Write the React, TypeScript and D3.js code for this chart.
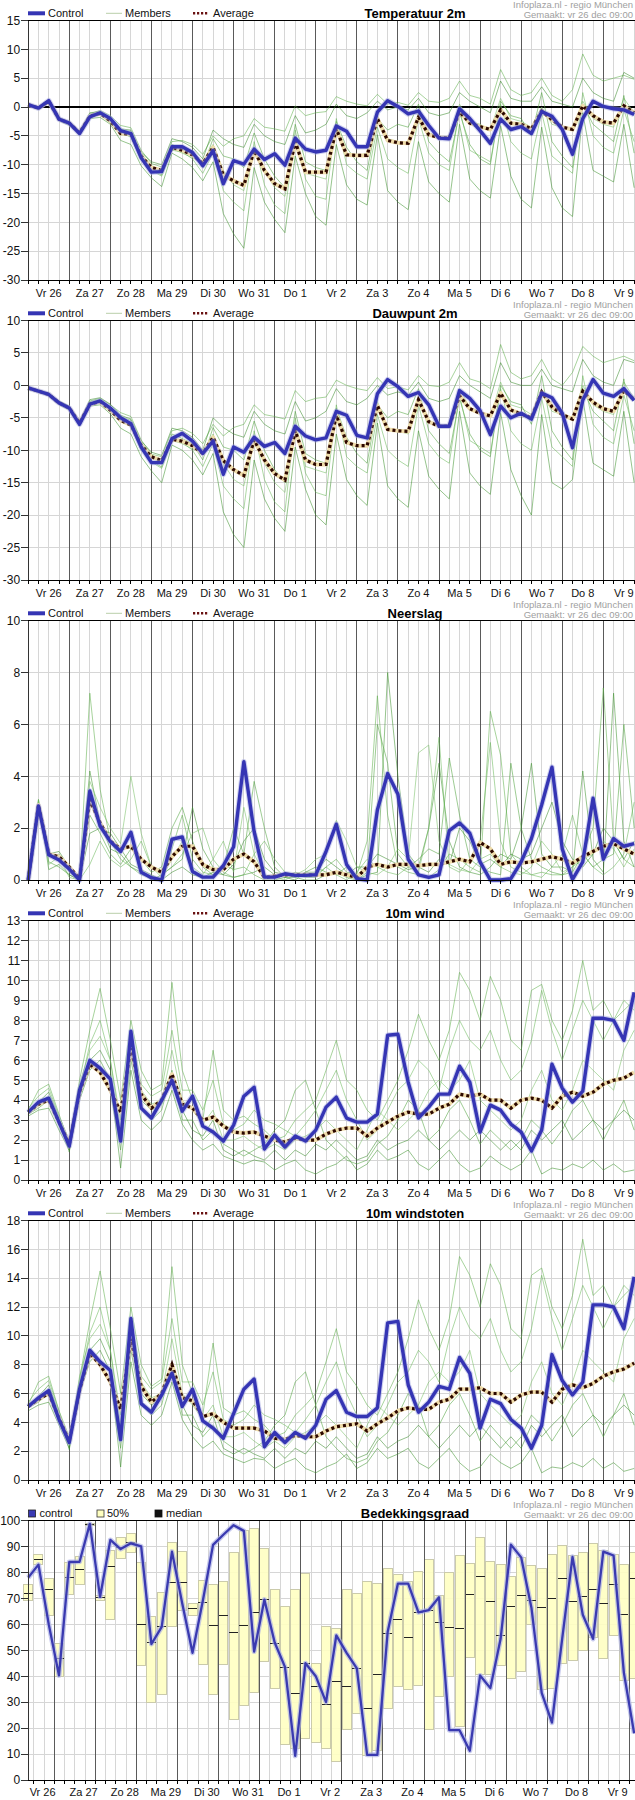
import React from "react";
import * as d3 from "d3";

// ---------- labels ----------
const dayLabels = ["Vr 26", "Za 27", "Zo 28", "Ma 29", "Di 30", "Wo 31", "Do 1", "Vr 2", "Za 3", "Zo 4", "Ma 5", "Di 6", "Wo 7", "Do 8", "Vr 9"];

// ---------- Temperatuur 2m ----------
const tempControl = [0.4,-0.2,1.1,-2.1, -2.8,-4.6,-1.7,-1.0, -2.0,-4.1,-4.6,-8.8, -11.3,-11.2,-6.9,-6.9, -7.9,-10.2,-7.6,-13.3, -9.3,-9.9,-7.3,-9.1, -8.1,-10.1,-5.4,-7.3, -7.8,-7.5,-3.3,-4.2, -6.9,-6.9,-0.9,1.1, 0.1,-1.2,-0.7,-3.2, -5.4,-5.5,-0.3,-2.0, -4.1,-6.3,-2.1,-3.9, -3.4,-4.6,-0.8,-1.6, -3.9,-8.2,-2.0,1.0, 0.1,-0.3,-0.5,-1.3];
const tempAverage = [0.4,-0.2,1.0,-2.1, -2.8,-4.5,-1.6,-1.1, -2.4,-4.6,-4.7,-8.5, -10.5,-11.0,-7.0,-7.5, -8.3,-9.8,-7.0,-11.8, -12.8,-13.6,-7.5,-11.0, -13.3,-14.2,-6.0,-11.3, -11.3,-11.3,-3.8,-8.3, -8.4,-8.4,-2.0,-5.8, -6.2,-6.3,-1.8,-4.8, -5.3,-5.4,-0.8,-2.8, -3.4,-3.9,-0.5,-2.8, -3.0,-3.8,-0.7,-2.2, -3.5,-3.9,0.2,-1.5, -2.6,-2.8,0.2,-1.0];
const tempM1 = [0.3,-0.1,1.0,-1.8, -2.6,-4.3,-1.2,-0.6, -1.5,-3.2,-3.6,-7.5, -9.8,-10.4,-6.0,-5.8, -6.5,-8.2,-5.0,-6.8, -5.5,-5.0,-2.0,-3.5, -3.8,-4.2,0.2,-1.5, -1.0,-0.8,1.8,1.0, 0.5,0.2,2.2,0.5, 0.8,0.3,2.5,1.0, 0.8,1.5,4.5,2.0, 1.5,0.5,6.5,3.0, 2.0,2.5,5.0,2.0, 1.0,3.0,9.2,5.5, 4.5,5.0,5.5,4.8];
const tempM2 = [0.5,-0.3,0.8,-2.4, -3.2,-4.9,-2.0,-1.8, -3.0,-5.8,-6.5,-10.2, -12.3,-13.8,-8.0,-9.0, -10.5,-12.8,-9.5,-18.5, -22.0,-24.5,-10.5,-16.5, -19.5,-21.8,-8.5,-15.0, -19.0,-20.5,-6.5,-13.5, -16.0,-17.0,-4.8,-14.5, -16.5,-17.8,-6.0,-13.0, -15.0,-16.5,-3.0,-12.5, -14.5,-15.8,-3.2,-12.0, -16.0,-17.5,-3.5,-14.0, -17.5,-19.0,-1.0,-11.0, -12.0,-13.0,-3.0,-14.0];
const tempM3 = [0.4,-0.2,1.2,-2.0, -2.9,-4.4,-1.5,-1.2, -2.6,-4.8,-5.0,-8.0, -10.2,-11.0,-7.2,-8.0, -8.8,-9.5,-6.5,-11.0, -13.5,-14.5,-7.0,-11.0, -14.0,-15.5,-5.5,-11.5, -12.0,-12.5,-3.5,-8.0, -8.5,-8.0,-1.5,-5.5, -6.0,-6.5,-1.0,-4.5, -5.0,-5.5,0.5,-2.5, -3.0,-4.0,1.5,-2.0, -2.5,-3.5,0.0,-3.0, -3.5,-4.0,1.0,-2.0, -3.0,-3.5,1.5,-1.0];
const tempM4 = [0.3,-0.1,1.1,-2.3, -3.0,-4.8,-1.8,-1.3, -2.8,-4.5,-5.2,-9.2, -10.8,-11.8,-6.5,-7.2, -8.0,-10.5,-5.5,-8.5, -9.0,-10.5,-4.5,-9.0, -12.0,-14.0,-3.0,-9.5, -10.5,-11.0,-2.5,-7.0, -9.5,-11.0,-2.0,-4.0, -3.0,-3.5,0.5,-6.0, -8.0,-9.5,-1.0,-6.5, -9.0,-10.0,1.0,-1.5, -2.0,-5.0,2.5,-6.0, -8.5,-10.5,0.5,-3.0, -4.5,-6.0,2.0,-8.0];
const tempM5 = [0.4,-0.3,0.9,-2.2, -2.7,-4.5,-1.3,-0.9, -2.2,-4.0,-4.2,-8.5, -11.0,-12.0,-7.5,-7.8, -9.0,-11.5,-8.0,-14.5, -16.5,-18.0,-6.0,-13.5, -17.0,-18.5,-4.0,-12.5, -15.5,-16.0,-2.0,-10.0, -11.5,-12.5,-3.5,-9.0, -10.5,-11.5,-2.0,-8.0, -10.0,-11.0,-0.5,-7.5, -8.5,-9.5,0.5,-6.0, -8.0,-9.0,-1.0,-8.5, -10.0,-11.5,2.5,-5.0, -7.0,-8.0,-0.5,-6.0];
const tempM6 = [0.5,-0.2,1.0,-1.9, -2.5,-4.2,-1.0,-0.8, -2.0,-3.8,-4.0,-7.8, -9.5,-10.0,-5.5,-6.0, -7.0,-9.0,-4.0,-5.5, -6.5,-7.0,-3.0,-5.0, -6.0,-6.5,-1.5,-4.5, -4.0,-3.0,0.5,-1.5, -2.0,-1.0,1.0,-0.5, 0.0,-0.5,1.5,-1.0, -1.5,-1.0,2.5,1.0, 0.0,-1.0,4.5,1.5, 1.0,1.0,3.5,1.0, 0.5,0.0,5.0,2.5, 1.5,1.0,6.0,5.0];

// ---------- Dauwpunt 2m ----------
const dewControl = [-0.4,-0.9,-1.4,-2.7, -3.5,-6.0,-2.9,-2.4, -3.5,-5.0,-5.9,-9.5, -11.9,-11.9,-8.2,-7.4, -8.6,-10.5,-8.6,-13.7, -9.5,-10.3,-8.0,-9.4, -8.8,-10.5,-6.3,-7.8, -8.4,-8.1,-4.0,-4.6, -7.7,-8.1,-1.3,0.9, -0.2,-1.7,-1.1,-3.0, -6.3,-6.3,-0.8,-2.0, -3.9,-7.6,-3.2,-5.0, -4.3,-5.2,-1.2,-1.9, -4.3,-9.6,-2.3,0.9, -1.2,-1.7,-0.5,-2.3];
const dewAverage = [-0.4,-0.9,-1.4,-2.7, -3.5,-5.8,-2.9,-2.5, -3.8,-5.4,-6.1,-9.2, -11.0,-11.6,-8.3,-8.6, -9.3,-10.5,-8.0,-11.6, -13.0,-13.9,-8.4,-11.5, -13.6,-14.6,-7.0,-11.5, -12.2,-12.2,-4.6,-8.8, -9.3,-9.3,-3.1,-6.8, -7.0,-7.1,-2.2,-5.6, -6.3,-6.3,-1.6,-3.6, -4.3,-4.7,-1.2,-3.8, -4.4,-5.0,-1.0,-3.3, -4.5,-5.2,-0.9,-2.6, -3.6,-4.0,-0.8,-2.2];
const dewM1 = [-0.4,-0.8,-1.3,-2.5, -3.3,-5.6,-2.4,-2.0, -3.0,-4.2,-4.8,-8.4, -10.6,-11.0,-7.0,-6.6, -7.4,-9.0,-6.0,-7.8, -6.5,-6.0,-3.0,-4.5, -4.8,-5.2,-0.8,-2.5, -2.0,-1.8,0.8,0.0, -0.5,-0.8,1.2,-0.5, -0.2,-0.7,1.5,0.0, -0.2,0.5,3.5,1.0, 0.5,-0.5,6.3,2.0, 1.0,1.5,4.0,1.0, 0.0,2.0,6.0,4.5, 3.5,4.0,4.5,3.8];
const dewM2 = [-0.3,-1.0,-1.6,-3.0, -3.8,-6.3,-3.2,-3.0, -4.4,-6.6,-7.5,-11.0, -13.2,-15.0,-9.2,-10.0, -11.5,-13.8,-10.5,-19.5, -23.0,-25.0,-11.5,-17.5, -20.5,-22.5,-9.5,-16.0, -20.0,-21.5,-7.5,-14.5, -17.0,-18.5,-5.8,-15.5, -17.5,-18.8,-7.0,-14.0, -16.0,-17.5,-4.0,-13.5, -15.5,-16.8,-4.2,-13.0, -17.0,-20.0,-4.5,-15.0, -16.0,-14.5,-2.0,-12.0, -13.0,-14.0,-4.0,-15.0];
const dewM3 = [-0.4,-0.9,-1.3,-2.6, -3.6,-5.8,-2.7,-2.6, -3.9,-5.6,-6.2,-8.8, -11.0,-11.8,-8.4,-9.0, -9.8,-10.5,-7.5,-12.0, -14.5,-15.5,-8.0,-12.0, -15.0,-16.5,-6.5,-12.5, -13.0,-13.5,-4.5,-9.0, -9.5,-9.0,-2.5,-6.5, -7.0,-7.5,-2.0,-5.5, -6.0,-6.5,-0.5,-3.5, -4.0,-5.0,0.5,-3.0, -3.5,-4.5,-1.0,-4.0, -4.5,-5.0,0.0,-3.0, -4.0,-4.5,0.5,-2.0];
const dewM4 = [-0.4,-0.8,-1.5,-2.9, -3.7,-6.2,-3.0,-2.7, -3.8,-5.4,-6.3,-10.0, -11.6,-12.6,-7.5,-8.2, -9.0,-11.5,-6.5,-9.5, -10.0,-11.5,-5.5,-10.0, -13.0,-15.0,-4.0,-10.5, -11.5,-12.0,-3.5,-8.0, -10.5,-12.0,-3.0,-5.0, -4.0,-4.5,-0.5,-7.0, -9.0,-10.5,-2.0,-7.5, -10.0,-11.0,0.0,-2.5, -3.0,-6.0,1.5,-7.0, -9.5,-11.5,-0.5,-4.0, -5.5,-7.0,1.0,-9.0];
const dewM5 = [-0.3,-1.0,-1.4,-2.8, -3.4,-5.9,-2.5,-2.2, -3.3,-4.8,-5.4,-9.2, -11.8,-12.8,-8.6,-8.8, -10.0,-12.5,-9.0,-15.5, -17.5,-19.0,-7.0,-14.5, -18.0,-19.5,-5.0,-13.5, -16.5,-17.0,-3.0,-11.0, -12.5,-13.5,-4.5,-10.0, -11.5,-12.5,-3.0,-9.0, -11.0,-12.0,-1.5,-8.5, -9.5,-10.5,-0.5,-7.0, -9.0,-10.0,-2.0,-9.5, -11.0,-12.5,1.5,-6.0, -8.0,-9.0,-1.5,-7.0];
const dewM6 = [-0.5,-0.9,-1.2,-2.4, -3.2,-5.5,-2.2,-1.9, -2.9,-4.6,-5.2,-8.6, -10.3,-10.8,-6.6,-7.0, -8.0,-10.0,-5.0,-6.5, -7.5,-8.0,-4.0,-6.0, -7.0,-7.5,-2.5,-5.5, -5.0,-4.0,-0.5,-2.5, -3.0,-2.0,0.0,-1.5, -1.0,-1.5,0.5,-2.0, -2.5,-2.0,1.5,0.0, -1.0,-2.0,3.5,0.5, 0.0,0.0,2.5,0.0, -0.5,-1.0,4.0,1.5, 0.5,0.0,4.0,3.5];

// ---------- Neerslag ----------
const rainControl = [0,2.85,0.97,0.77, 0.42,0,3.43,2.08, 1.48,1.1,1.84,0.3, 0.09,0,1.57,1.66, 0.33,0.11,0.11,0.55, 1.28,4.56,1.86,0.11, 0.11,0.24,0.18,0.18, 0.2,1.1,2.15,0.6, 0.05,0,2.7,4.1, 3.3,0.8,0.2,0.1, 0.2,1.9,2.2,1.8, 0.7,0,0,0.05, 0.7,1.6,2.9,4.35, 1.2,0.02,0.7,3.15, 0.8,1.6,1.3,1.4];
const rainAverage = [0,2.9,1.0,0.9, 0.5,0.05,3.1,2.2, 1.5,1.2,1.3,0.8, 0.5,0.3,0.9,1.3, 1.3,0.6,0.4,0.4, 0.8,1.0,0.7,0.1, 0.15,0.2,0.2,0.2, 0.2,0.2,0.3,0.2, 0.1,0.5,0.6,0.5, 0.6,0.6,0.55,0.6, 0.6,0.7,0.8,0.7, 1.45,1.2,0.6,0.7, 0.65,0.7,0.8,0.9, 0.8,0.65,0.9,1.1, 1.3,1.4,1.2,1.0];
const rainM1 = [0,3.0,0.9,1.0, 0.3,0,7.2,3.5, 1.5,0.8,0.5,0.2, 0.1,0,1.2,2.5, 0.8,0.3,0.2,0.6, 0.4,0.5,0.2,0, 0,0.1,0.3,0.2, 0.2,0.5,0.8,0.3, 0.2,1.5,7.1,2.5, 0.5,0.3,0.2,0.1, 0.4,1.0,0.8,0.5, 0.3,6.5,4.8,1.0, 0.5,0.2,0.3,0.2, 0.2,0.5,1.0,2.0, 7.4,1.5,0.8,0.5];
const rainM2 = [0,3.1,0.4,0.6, 0.2,0,4.2,2.2, 1.2,1.0,0.5,0.3, 0,0.2,0.5,0.8, 2.8,1.2,0.5,0.2, 0.1,0.2,0.3,0.5, 0.2,0.1,0,0.3, 0.5,0.3,0.2,0.5, 0,0.2,0.3,8.0, 4.0,1.0,0.5,2.0, 4.5,1.5,0.5,0.3, 0.2,0.5,1.0,0.8, 2.0,4.5,1.0,0.5, 0.5,0.3,4.2,0.8, 0.3,7.2,1.5,0.5];
const rainM3 = [0,2.9,1.1,0.8, 0.4,0,3.8,2.8, 2.0,1.4,4.0,1.8, 0.5,0.1,0.8,1.5, 0.5,0.2,0.8,1.5, 0.3,2.8,1.0,0.2, 0.1,0,0.2,0.4, 0.8,1.0,2.3,1.5, 0.5,0.3,0.2,0.5, 1.2,0.8,4.9,5.2, 1.5,0.6,0.4,0.3, 0.8,1.0,0.5,0.3, 0.2,0.5,1.5,1.0, 0.3,0.5,0.8,1.0, 1.5,1.2,0.5,1.2];
const rainM4 = [0,3.0,0.7,0.5, 0.2,0,2.5,1.8, 1.0,0.6,1.2,0.8, 0.3,0.5,2.0,2.8, 1.5,0.5,0.2,0.5, 2.0,1.0,3.8,2.0, 0.5,0.1,0.1,0, 0,0.2,0.3,0.1, 0,0.3,6.0,4.5, 1.0,0.5,0.8,1.2, 1.0,4.7,2.5,0.8, 0.5,0.3,0.2,4.5, 2.0,0.8,0.5,0.3, 0.2,0.3,1.0,0.5, 0.8,1.0,6.0,2.0];
const rainM5 = [0,3.1,0.6,0.9, 0.1,0,0.6,1.5, 0.8,0.5,0.8,1.5, 0.5,0.2,0.5,1.0, 1.8,2.0,0.8,0.3, 0.1,0.2,1.0,1.5, 0.8,0.3,0.2,0.1, 0.1,0.5,0.2,0, 0.3,0.8,0.5,0.3, 0.2,0.5,0.3,2.0, 5.5,0.5,0.3,0.8, 1.5,5.3,1.5,0.5, 0.3,0.2,0.1,0.5, 1.0,2.5,1.0,0.5, 0.2,0.5,1.0,3.0];
const rainM6 = [0,2.9,1.0,1.1, 0.5,0,1.8,2.0, 1.8,1.2,0.6,0.4, 0.2,0,0.3,0.5, 0.2,0.1,0.3,0.2, 0.6,1.5,2.0,0.8, 0.3,0.2,0.1,0.3, 0.3,0.8,0.5,0.2, 0.5,0.5,1.0,0.8, 0.6,0.4,0.5,0.3, 0.8,0.6,2.0,1.5, 0.6,0.8,0.5,1.0, 0.8,1.0,2.0,3.0, 1.5,0.8,0.5,1.0, 2.0,1.5,0.8,1.5];

// ---------- 10m wind ----------
const windControl = [3.4,3.9,4.1,2.9, 1.7,4.5,6.0,5.6, 5.05,1.95,7.45,3.6, 3.1,4.0,5.0,3.45, 4.2,2.7,2.4,1.95, 2.75,4.2,4.65,1.55, 2.25,1.65,2.2,1.95, 2.5,3.65,4.15,3.1, 2.9,2.9,3.3,7.25, 7.3,4.9,3.1,3.65, 4.3,4.3,5.7,4.9, 2.4,3.75,3.5,2.8, 2.4,1.45,2.5,5.8, 4.6,3.9,4.45,8.1, 8.1,8.0,7.0,9.4];
const windAverage = [3.4,3.8,4.0,2.9, 1.8,4.4,5.8,5.4, 4.5,3.4,6.6,4.3, 3.6,4.0,5.3,3.8, 3.6,3.0,3.15,2.7, 2.4,2.35,2.4,2.2, 2.0,1.9,2.1,2.0, 2.0,2.3,2.5,2.6, 2.6,2.2,2.6,2.9, 3.2,3.4,3.3,3.3, 3.6,3.8,4.3,4.2, 4.3,4.0,4.0,3.6, 4.0,4.1,4.0,3.6, 4.2,4.4,4.2,4.4, 4.8,5.0,5.1,5.4];
const windM1 = [3.5,4.5,4.8,3.3, 1.8,5.0,7.5,9.6, 7.0,4.0,8.0,5.5, 4.5,4.8,9.9,5.5, 4.0,3.0,6.5,3.5, 3.0,3.2,2.8,2.5, 2.0,2.2,3.0,3.5, 4.0,5.5,7.0,5.0, 4.5,3.5,3.0,4.0, 5.0,6.5,8.3,7.0, 6.0,7.5,10.4,9.5, 8.0,10.2,9.0,7.0, 6.5,9.5,9.8,8.0, 7.0,8.5,11.0,8.5, 9.0,8.0,8.5,9.0];
const windM2 = [3.2,3.5,3.6,2.5, 1.5,4.0,5.5,6.0, 5.0,0.6,5.5,3.0, 2.5,3.0,4.5,2.8, 2.0,1.5,1.8,1.2, 1.0,0.8,1.0,0.9, 0.5,0.8,1.0,0.5, 0.3,0.6,0.8,1.2, 0.5,0.8,1.5,1.0, 1.2,1.5,0.8,0.5, 1.0,1.5,0.8,0.4, 0.6,1.2,0.8,0.5, 0.8,1.5,0.3,0.6, 0.5,0.8,0.6,1.0, 0.5,0.8,0.4,0.5];
const windM3 = [3.4,3.8,4.2,3.0, 1.6,4.8,6.5,7.2, 6.0,2.5,7.0,4.5, 3.8,4.0,6.5,4.0, 3.5,2.8,3.5,2.0, 2.0,2.2,1.8,1.5, 1.8,1.5,2.0,2.2, 2.5,3.0,2.5,2.0, 1.5,2.5,3.5,3.0, 2.5,3.0,3.5,4.5, 5.0,4.5,5.0,6.0, 4.0,3.5,3.0,2.5, 3.0,4.5,5.5,4.0, 3.5,4.5,6.0,5.5, 5.0,4.5,6.5,7.5];
const windM4 = [3.3,3.6,4.0,2.8, 1.7,4.2,5.8,5.5, 4.5,1.5,6.0,3.5, 3.0,3.5,5.5,3.0, 3.0,2.0,2.5,1.8, 1.5,1.2,1.5,1.8, 2.5,3.0,4.5,5.0, 3.5,2.0,1.5,1.0, 0.8,1.0,1.8,2.2, 3.0,4.0,3.5,2.0, 2.5,3.5,4.0,3.0, 1.8,2.5,2.0,1.5, 2.0,3.0,2.5,1.8, 2.5,3.5,4.0,3.0, 2.0,3.0,4.0,2.5];
const windM5 = [3.6,4.2,4.6,3.2, 2.0,4.5,6.8,8.0, 6.0,3.0,7.5,4.8, 4.2,4.5,7.5,4.5, 4.5,3.5,5.0,2.8, 2.5,2.8,3.5,3.0, 2.8,2.5,2.2,2.8, 3.5,4.5,5.5,4.0, 3.0,2.0,2.5,3.5, 4.5,5.0,6.0,5.5, 4.5,6.5,8.0,7.0, 6.5,7.5,6.0,5.0, 5.5,7.0,9.5,7.5, 6.0,7.5,9.0,8.0, 7.0,8.0,9.0,8.5];
const windM6 = [3.3,3.9,4.4,3.1, 1.4,4.4,6.0,6.5, 5.5,2.0,6.5,4.0, 3.5,3.8,5.0,3.5, 2.5,2.2,3.0,1.5, 1.2,1.5,1.2,1.0, 1.5,1.0,1.5,1.2, 1.8,1.5,2.0,1.5, 1.0,1.2,2.0,1.5, 1.8,2.0,2.5,2.0, 1.5,2.0,2.5,2.0, 2.5,2.0,1.5,2.0, 1.5,2.5,2.0,2.5, 3.0,2.0,2.5,3.0, 2.5,3.0,3.5,3.0];

// ---------- 10m windstoten ----------
const gustControl = [5.1,5.7,6.2,4.2, 2.6,6.3,9.0,8.2, 7.6,2.8,11.2,5.3, 4.7,5.9,7.4,5.1, 6.3,4.1,3.6,2.9, 4.6,6.3,7.0,2.3, 3.3,2.6,3.3,2.9, 3.8,5.6,6.2,4.7, 4.4,4.4,5.0,10.9, 11.0,6.6,4.7,5.4, 6.5,6.3,8.5,7.4, 3.6,5.6,5.3,4.2, 3.6,2.2,3.8,8.7, 6.9,5.9,6.8,12.15, 12.15,12.0,10.5,14.1];
const gustAverage = [5.1,5.6,6.0,4.3, 2.7,6.2,8.8,8.0, 6.8,4.9,9.8,6.5, 5.4,6.0,8.0,5.7, 5.5,4.4,4.6,4.0, 3.6,3.6,3.6,3.4, 2.9,2.8,3.1,3.0, 3.0,3.4,3.7,3.8, 3.9,3.4,3.9,4.3, 4.8,5.0,4.9,4.9, 5.4,5.6,6.3,6.3, 6.4,6.0,6.0,5.4, 5.9,6.1,6.1,5.4, 6.3,6.6,6.4,6.7, 7.2,7.5,7.7,8.1];
const gustM1 = [5.2,6.8,7.2,4.8, 2.5,7.0,11.0,14.5, 10.5,6.0,12.0,8.0, 6.5,7.0,14.8,8.0, 6.0,4.5,9.5,5.0, 4.5,4.8,4.2,3.8, 3.0,3.3,4.5,5.2, 6.0,8.2,10.5,7.5, 6.5,5.2,4.5,6.0, 7.5,9.8,12.5,10.5, 9.0,11.2,15.5,14.2, 12.0,15.0,13.5,10.5, 9.8,14.2,14.7,12.0, 10.5,12.8,16.7,12.8, 13.5,12.0,12.8,13.5];
const gustM2 = [4.8,5.2,5.4,3.8, 2.2,6.0,8.2,9.0, 7.5,0.9,8.2,4.5, 3.8,4.5,6.8,4.2, 3.0,2.2,2.7,1.8, 1.5,1.2,1.5,1.4, 0.8,1.2,1.5,0.8, 0.5,0.9,1.2,1.8, 0.8,1.2,2.2,1.5, 1.8,2.2,1.2,0.8, 1.5,2.2,1.2,0.6, 0.9,1.8,1.2,0.8, 1.2,2.2,0.5,0.9, 0.8,1.2,0.9,1.5, 0.8,1.2,0.6,0.8];
const gustM3 = [5.1,5.7,6.3,4.5, 2.4,7.2,9.8,10.8, 9.0,3.8,10.5,6.8, 5.7,6.0,9.8,6.0, 5.2,4.2,5.2,3.0, 3.0,3.3,2.7,2.2, 2.7,2.2,3.0,3.3, 3.8,4.5,3.8,3.0, 2.2,3.8,5.2,4.5, 3.8,4.5,5.2,6.8, 7.5,6.8,7.5,9.0, 6.0,5.2,4.5,3.8, 4.5,6.8,8.2,6.0, 5.2,6.8,9.0,8.2, 7.5,6.8,9.8,11.2];
const gustM4 = [5.0,5.4,6.0,4.2, 2.5,6.3,8.7,8.2, 6.8,2.2,9.0,5.2, 4.5,5.2,8.2,4.5, 4.5,3.0,3.8,2.7, 2.2,1.8,2.2,2.7, 3.8,4.5,6.8,7.5, 5.2,3.0,2.2,1.5, 1.2,1.5,2.7,3.3, 4.5,6.0,5.2,3.0, 3.8,5.2,6.0,4.5, 2.7,3.8,3.0,2.2, 3.0,4.5,3.8,2.7, 3.8,5.2,6.0,4.5, 3.0,4.5,6.0,3.8];
const gustM5 = [5.4,6.3,6.9,4.8, 3.0,6.8,10.2,12.0, 9.0,4.5,11.2,7.2, 6.3,6.8,11.2,6.8, 6.8,5.2,7.5,4.2, 3.8,4.2,5.2,4.5, 4.2,3.8,3.3,4.2, 5.2,6.8,8.2,6.0, 4.5,3.0,3.8,5.2, 6.8,7.5,9.0,8.2, 6.8,9.8,12.0,10.5, 9.8,11.2,9.0,7.5, 8.2,10.5,14.2,11.2, 9.0,11.2,13.5,12.0, 10.5,12.0,13.5,12.8];
const gustM6 = [5.0,5.8,6.6,4.6, 2.1,6.6,9.0,9.8, 8.2,3.0,9.8,6.0, 5.2,5.7,7.5,5.2, 3.8,3.3,4.5,2.2, 1.8,2.2,1.8,1.5, 2.2,1.5,2.2,1.8, 2.7,2.2,3.0,2.2, 1.5,1.8,3.0,2.2, 2.7,3.0,3.8,3.0, 2.2,3.0,3.8,3.0, 3.8,3.0,2.2,3.0, 2.2,3.8,3.0,3.8, 4.5,3.0,3.8,4.5, 3.8,4.5,5.2,4.5];

// ---------- Bedekkingsgraad ----------
const cloudControl = [78,83,60,40.3, 84,84.1,98.7,70.6, 92.5,89,91.2,90, 52.4,59,88,68, 49,69,90.6,94.5, 98.2,96,49.5,69.5, 53,43.6,9.3,45, 40,30,55.7,49, 43,9.7,9.7,57, 75.7,75.7,64.6,65.5, 70.4,19.2,19.2,11.3, 40.3,35.4,54.4,90.7, 85.8,66.4,33.6,22.1, 54.6,86,63.7,54.4, 88,86.5,41.4,18];
const cloudQ75 = [75.5,87,77.5,52.5, 84,86,99,71, 88.5,93.5,95,84, 63,72.3,91.6,88, 68,76.9,75.5,76.5, 87.8,96,96.8,89.4, 73.5,67,73.5,79.5, 45,59,58.5,73.5, 72,76.5,75.6,81.4, 79,76.5,80.5,85, 71,80,86.5,83.4, 93.4,84.1,83.2,78.3, 85.8,82.7,81.6,87, 90.3,86.7,87.6,91, 88.5,87,83,87.6];
const cloudQ25 = [69,83,63.5,40, 71.5,75.5,98,69, 62,85.3,87.5,44, 30,32.8,59.3,65.3, 63.5,44.7,32.8,44.7, 23.4,28.9,33.9,45.6, 35.1,13.5,12,16, 14.4,12.2,7.3,19.3, 25.7,9.3,11.3,27.6, 36,34.7,36.6,19.3, 32.1,40,20.6,47.3, 40.5,40.7,44.2,39.2, 42,60,34.7,35.3, 45,46,50,55, 47,55.7,38.5,39.2];
const cloudMedian = [72,85,73.5,47, 78,81,98.5,70.5, 82.4,89.5,91.5,60, 53,59,76,76, 66,68.4,59.5,63.5, 57,59.5,64.6,69.5, 52.7,43.4,33.4,45, 36.2,29,38,36.2, 43,27.6,40.7,56.5, 62,55,64.6,65.5, 60.6,58.8,58.4,71.5, 78.3,68.8,55.8,66.8, 71,69,66.4,69.9, 77.7,68.8,70.8,73.5, 67.9,75.5,63.7,77.5];

// ---------- drawing constants ----------
const FONT = "'Liberation Sans', Arial, Helvetica, sans-serif";
const X0 = 28.2;
const STEP = 10.27;
const XR = 635;
const PLOT_H = 259.5;
const CONTROL = "#3535b4";
const MEMBER_COLORS = ["#5fae4a", "#3f9430", "#78c066", "#4ea23c", "#6ab85a", "#3a8a2c"];
const AVG_DARK = "#2c0800";
const AVG_LIGHT = "#efdcaa";
const GRID = "#d6d6d6";
const DAY = "#5a5a5a";

const xScale = d3.scaleLinear().domain([0, 59]).range([X0, X0 + 59 * STEP]);

function Header({ P, title }: { P: number; title: string }) {
  return (
    <g fontFamily={FONT}>
      <text x={633} y={P + 7.5} textAnchor="end" fontSize={9.5} fill="#a0a0a0">Infoplaza.nl - regio München</text>
      <text x={633} y={P + 17.5} textAnchor="end" fontSize={9.5} fill="#a0a0a0">Gemaakt: vr 26 dec 09:00</text>
      <text x={415} y={P + 18} textAnchor="middle" fontSize={13} fontWeight="bold" fill="#000">{title}</text>
    </g>
  );
}

function LineLegend({ P }: { P: number }) {
  const ly = P + 13.3;
  return (
    <g fontFamily={FONT} fontSize={11} fill="#111">
      <line x1={28} x2={45} y1={ly} y2={ly} stroke={CONTROL} strokeWidth={4} />
      <text x={48} y={P + 17}>Control</text>
      <line x1={106} x2={122} y1={ly} y2={ly} stroke="#b9cfa9" strokeWidth={1} />
      <text x={125} y={P + 17}>Members</text>
      <line x1={193} x2={209} y1={ly} y2={ly} stroke="#6a1212" strokeWidth={2.5} strokeDasharray="2.2,1.8" />
      <text x={213} y={P + 17}>Average</text>
    </g>
  );
}

type LPProps = {
  index: number;
  title: string;
  domain: [number, number];
  tickStep: number;
  control: number[];
  average: number[];
  members: number[][];
  zero?: boolean;
};

function LinePanel({ index, title, domain, tickStep, control, average, members, zero }: LPProps) {
  const P = index * 300;
  const top = P + 20.5;
  const bottom = top + PLOT_H;
  const y = d3.scaleLinear().domain(domain).range([bottom, top]);
  const gen = d3.line<number>().x((_, i) => xScale(i)).y((d) => y(d));
  const ticks = d3.range(domain[0], domain[1] + 0.001, tickStep);
  const minorK = d3.range(1, 60);
  const dayK = d3.range(4, 60, 4);
  return (
    <g>
      <Header P={P} title={title} />
      <LineLegend P={P} />
      <g shapeRendering="crispEdges">
        {ticks.map((t) => (
          <line key={"h" + t} x1={X0} x2={XR} y1={y(t)} y2={y(t)} stroke={GRID} />
        ))}
        {minorK.map((k) => (
          <line key={"m" + k} x1={xScale(k)} x2={xScale(k)} y1={top} y2={bottom} stroke={GRID} />
        ))}
        {dayK.map((k) => (
          <line key={"d" + k} x1={xScale(k)} x2={xScale(k)} y1={top} y2={bottom} stroke={DAY} />
        ))}
      </g>
      {zero && <line x1={X0} x2={XR} y1={y(0)} y2={y(0)} stroke="#000" strokeWidth={2} />}
      {members.map((m, i) => (
        <path key={"mem" + i} d={gen(m) || ""} fill="none" stroke={MEMBER_COLORS[i % MEMBER_COLORS.length]} strokeOpacity={0.55} strokeWidth={1} />
      ))}
      <path d={gen(average) || ""} fill="none" stroke={AVG_LIGHT} strokeWidth={4} strokeLinejoin="round" />
      <path d={gen(average) || ""} fill="none" stroke={AVG_DARK} strokeWidth={3.2} strokeDasharray="3,3" />
      <path d={gen(control) || ""} fill="none" stroke="#9fa3e0" strokeOpacity={0.5} strokeWidth={5.5} strokeLinejoin="round" />
      <path d={gen(control) || ""} fill="none" stroke={CONTROL} strokeWidth={3.4} strokeLinejoin="round" />
      {/* axes */}
      <g shapeRendering="crispEdges">
        <line x1={X0} x2={XR} y1={top} y2={top} stroke="#000" />
        <line x1={X0} x2={XR} y1={bottom} y2={bottom} stroke="#000" />
        <line x1={X0} x2={X0} y1={top} y2={bottom} stroke="#333" />
        {ticks.map((t) => (
          <line key={"yt" + t} x1={X0 - 7} x2={X0} y1={y(t)} y2={y(t)} stroke="#333" />
        ))}
        {d3.range(0, 60).map((k) => (
          <line key={"xt" + k} x1={xScale(k)} x2={xScale(k)} y1={bottom} y2={bottom + 4} stroke="#000" />
        ))}
      </g>
      <g fontFamily={FONT} fontSize={12} fill="#111">
        {ticks.map((t) => (
          <text key={"yl" + t} x={X0 - 8} y={y(t)} dy="0.36em" textAnchor="end">{t}</text>
        ))}
      </g>
      <g fontFamily={FONT} fontSize={11} fill="#111">
        {dayLabels.map((lab, j) => (
          <text key={lab} x={xScale(2 + 4 * j)} y={P + 297} textAnchor="middle">{lab}</text>
        ))}
      </g>
    </g>
  );
}

function CloudPanel() {
  const P = 1500;
  const top = P + 20.5;
  const bottom = top + PLOT_H;
  const y = d3.scaleLinear().domain([0, 100]).range([bottom, top]);
  const gen = d3.line<number>().x((_, i) => xScale(i)).y((d) => y(d));
  const ticks = d3.range(0, 101, 10);
  const off = 0.54;
  const minorK = d3.range(0, 59).map((m) => m + off);
  const dayK = d3.range(0, 15).map((j) => 2 + off + 4 * j);
  const bw = 9;
  const ly = P + 13.5;
  return (
    <g>
      <Header P={P} title="Bedekkingsgraad" />
      <g fontFamily={FONT} fontSize={11} fill="#111">
        <rect x={28.5} y={ly - 3.5} width={7} height={7} fill="#3a3ab4" stroke="#222" strokeWidth={0.8} />
        <text x={39.5} y={P + 17}>control</text>
        <rect x={97} y={ly - 3.5} width={7} height={7} fill="#ffffc0" stroke="#333" strokeWidth={0.8} />
        <text x={107} y={P + 17}>50%</text>
        <rect x={155} y={ly - 3.5} width={7} height={7} fill="#111" stroke="#111" strokeWidth={0.8} />
        <text x={166} y={P + 17}>median</text>
      </g>
      <g shapeRendering="crispEdges">
        {ticks.map((t) => (
          <line key={"h" + t} x1={X0} x2={XR} y1={y(t)} y2={y(t)} stroke={GRID} />
        ))}
        {minorK.map((k) => (
          <line key={"m" + k} x1={xScale(k)} x2={xScale(k)} y1={top} y2={bottom} stroke={GRID} />
        ))}
        {cloudQ75.map((hi, k) => (
          <rect key={"b" + k} x={xScale(k) - bw / 2} width={bw} y={y(hi)} height={Math.max(1, y(cloudQ25[k]) - y(hi))} fill="#ffffc2" fillOpacity={0.9} stroke="#cbcbab" strokeWidth={1} />
        ))}
        {cloudMedian.map((md, k) => (
          <line key={"md" + k} x1={xScale(k) - bw / 2} x2={xScale(k) + bw / 2} y1={y(md)} y2={y(md)} stroke="#222" strokeWidth={1} />
        ))}
        {dayK.map((k) => (
          <line key={"d" + k} x1={xScale(k)} x2={xScale(k)} y1={top} y2={bottom} stroke={DAY} />
        ))}
      </g>
      <path d={gen(cloudControl) || ""} fill="none" stroke="#aeb2e6" strokeOpacity={0.7} strokeWidth={5} strokeLinejoin="round" />
      <path d={gen(cloudControl) || ""} fill="none" stroke="#3a3ab0" strokeWidth={2.3} strokeLinejoin="round" />
      <g shapeRendering="crispEdges">
        <line x1={X0} x2={XR} y1={top} y2={top} stroke="#000" />
        <line x1={X0} x2={XR} y1={bottom} y2={bottom} stroke="#000" />
        <line x1={X0} x2={X0} y1={top} y2={bottom} stroke="#333" />
        {ticks.map((t) => (
          <line key={"yt" + t} x1={X0 - 7} x2={X0} y1={y(t)} y2={y(t)} stroke="#333" />
        ))}
        {minorK.map((k) => (
          <line key={"xt" + k} x1={xScale(k)} x2={xScale(k)} y1={bottom} y2={bottom + 4} stroke="#000" />
        ))}
      </g>
      <g fontFamily={FONT} fontSize={12} fill="#111">
        {ticks.map((t) => (
          <text key={"yl" + t} x={X0 - 8} y={y(t)} dy="0.36em" textAnchor="end">{t}</text>
        ))}
      </g>
      <g fontFamily={FONT} fontSize={11} fill="#111">
        {dayLabels.map((lab, j) => (
          <text key={lab} x={xScale(1.4 + 4 * j)} y={P + 296} textAnchor="middle">{lab}</text>
        ))}
      </g>
    </g>
  );
}

export default function App() {
  return (
    <svg width={635} height={1800} viewBox="0 0 635 1800" style={{ position: "absolute", left: 0, top: 0, background: "#fff" }}>
      <rect x={0} y={0} width={635} height={1800} fill="#fff" />
      <LinePanel index={0} title="Temperatuur 2m" domain={[-30, 15]} tickStep={5} control={tempControl} average={tempAverage} members={[tempM1, tempM2, tempM3, tempM4, tempM5, tempM6]} zero />
      <LinePanel index={1} title="Dauwpunt 2m" domain={[-30, 10]} tickStep={5} control={dewControl} average={dewAverage} members={[dewM1, dewM2, dewM3, dewM4, dewM5, dewM6]} />
      <LinePanel index={2} title="Neerslag" domain={[0, 10]} tickStep={2} control={rainControl} average={rainAverage} members={[rainM1, rainM2, rainM3, rainM4, rainM5, rainM6]} />
      <LinePanel index={3} title="10m wind" domain={[0, 13]} tickStep={1} control={windControl} average={windAverage} members={[windM1, windM2, windM3, windM4, windM5, windM6]} />
      <LinePanel index={4} title="10m windstoten" domain={[0, 18]} tickStep={2} control={gustControl} average={gustAverage} members={[gustM1, gustM2, gustM3, gustM4, gustM5, gustM6]} />
      <CloudPanel />
    </svg>
  );
}
